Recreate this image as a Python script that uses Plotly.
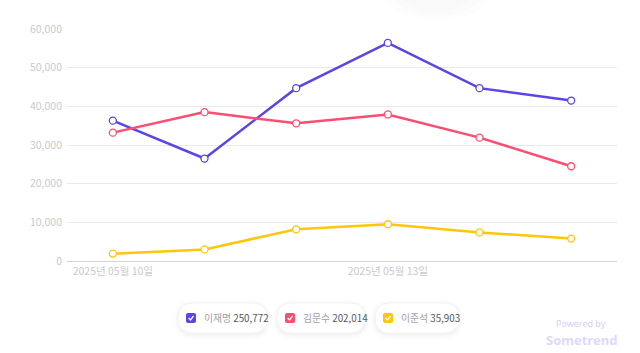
import plotly.graph_objects as go

dates = ["2025년 05월 10일", "2025년 05월 11일", "2025년 05월 12일",
         "2025년 05월 13일", "2025년 05월 14일", "2025년 05월 15일"]
tick_labels = ["2025년 05월 10일", "", "", "2025년 05월 13일", "", ""]
names = ["이재명", "김문수", "이준석"]
totals = ["250,772", "202,014", "35,903"]
lee_jm = [36300, 26500, 44700, 56400, 44700, 41500]
kim_ms = [33200, 38500, 35600, 37900, 31900, 24500]
lee_js = [1900, 3000, 8200, 9500, 7400, 5800]
colors = ["#5B45E6", "#FF4D72", "#FFC60A"]

FONT = "Noto Sans CJK KR"
W, H = 640, 353
ML, MR, MT, MB = 67, 23, 29, 92
PW, PH = W - ML - MR, H - MT - MB

def px(x):
    return (x - ML) / PW

def py(y):
    return (H - MB - y) / PH

fig = go.Figure()
xs = list(range(len(dates)))
for name, vals, col in zip(names, [lee_jm, kim_ms, lee_js], colors):
    fig.add_trace(go.Scatter(
        x=xs, y=vals, name=name, mode="lines+markers",
        line=dict(color=col, width=2.5),
        marker=dict(size=7, color="white", line=dict(color=col, width=1.3)),
        showlegend=False,
    ))

shapes = []
annotations = []

def pill(x0, y0, x1, y1, r, **kw):
    X0, X1 = px(x0), px(x1)
    Y0, Y1 = py(y0), py(y1)
    rx, ry = r / PW, r / PH
    path = (f"M {X0+rx},{Y0} L {X1-rx},{Y0} Q {X1},{Y0} {X1},{Y0-ry} "
            f"L {X1},{Y1+ry} Q {X1},{Y1} {X1-rx},{Y1} L {X0+rx},{Y1} "
            f"Q {X0},{Y1} {X0},{Y1+ry} L {X0},{Y0-ry} Q {X0},{Y0} {X0+rx},{Y0} Z")
    d = dict(type="path", path=path, xref="paper", yref="paper", layer="above")
    d.update(kw)
    return d

# faint shadow blob at top
for k, a in [(0, 0.006), (8, 0.006), (16, 0.006)]:
    shapes.append(dict(type="circle", xref="paper", yref="paper",
                       x0=px(385 + k), x1=px(490 - k), y0=py(20 - k / 2), y1=py(-30),
                       fillcolor=f"rgba(0,0,0,{a})", line=dict(width=0), layer="below"))

pills = [(178, 267), (277, 365), (375, 459)]
for (x0, x1), col, nm, tot in zip(pills, colors, names, totals):
    for k, a in [(5, 0.006), (3.5, 0.008), (2, 0.012), (1, 0.015)]:
        shapes.append(pill(x0 - k, 303 - k + 1.5, x1 + k, 333 + k + 1.5, 15 + k,
                           fillcolor=f"rgba(0,0,0,{a})", line=dict(width=0)))
    shapes.append(pill(x0, 303, x1, 333, 15, fillcolor="white",
                       line=dict(color="#F3F3F5", width=1)))
    cx0 = x0 + 8
    shapes.append(pill(cx0, 313, cx0 + 10, 323, 2, fillcolor=col, line=dict(width=0)))
    shapes.append(dict(type="path", xref="paper", yref="paper", layer="above",
                       path=f"M {px(cx0+2.6)},{py(318)} L {px(cx0+4.5)},{py(320)} L {px(cx0+7.6)},{py(315.8)}",
                       line=dict(color="white", width=1.3)))
    annotations.append(dict(x=px(cx0 + 16), y=py(318), xref="paper", yref="paper",
                            xanchor="left", yanchor="middle", showarrow=False,
                            text=f"<span style='color:#A0A0A8'>{nm}</span> <span style='color:#58585F'>{tot}</span>",
                            font=dict(family=FONT, size=9.8)))

annotations.append(dict(x=px(581), y=py(323), xref="paper", yref="paper", showarrow=False,
                        xanchor="center", yanchor="middle",
                        text="Powered by", font=dict(family="Noto Sans", size=9, color="#D6D0FA")))
annotations.append(dict(x=px(581), y=py(340), xref="paper", yref="paper", showarrow=False,
                        xanchor="center", yanchor="middle",
                        text="<b>Sometrend</b>", font=dict(family="Noto Sans", size=13, color="#DED9FA")))

fig.update_layout(
    width=W, height=H,
    margin=dict(l=ML, r=MR, t=MT, b=MB),
    paper_bgcolor="white", plot_bgcolor="white",
    font=dict(family=FONT),
    xaxis=dict(tickmode="array", tickvals=xs, ticktext=tick_labels, range=[-0.5, 5.5],
               showgrid=False, zeroline=False, showline=False, ticks="",
               tickfont=dict(size=10.5, color="#C9C9CF"), ticklabelstandoff=2),
    yaxis=dict(range=[0, 60000], tickvals=[0, 10000, 20000, 30000, 40000, 50000, 60000],
               tickformat=",", showgrid=True, gridcolor="#EAEAEC", gridwidth=1,
               zeroline=True, zerolinecolor="#D4D4D8", zerolinewidth=1.3,
               showline=False, ticks="", tickfont=dict(size=10.5, color="#C9C9CF"),
               ticklabelstandoff=4),
    shapes=shapes, annotations=annotations,
)
fig.write_html("out.html")
